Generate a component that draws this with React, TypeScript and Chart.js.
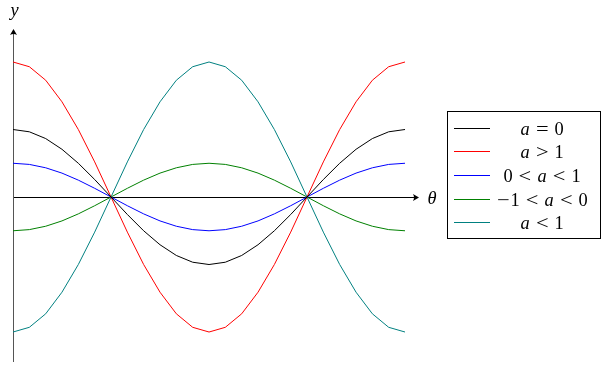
import React, { useEffect, useRef } from "react";
import { Chart, registerables } from "chart.js";

Chart.register(...registerables);

const thetaValues = [0, 0.262, 0.524, 0.785, 1.047, 1.309, 1.571, 1.833, 2.094, 2.356, 2.618, 2.88, 3.142, 3.403, 3.665, 3.927, 4.189, 4.451, 4.712, 4.974, 5.236, 5.498, 5.76, 6.021, 6.283];

const blackValues = [1, 0.966, 0.866, 0.707, 0.5, 0.259, 0, -0.259, -0.5, -0.707, -0.866, -0.966, -1, -0.966, -0.866, -0.707, -0.5, -0.259, 0, 0.259, 0.5, 0.707, 0.866, 0.966, 1];
const redValues = [2, 1.93, 1.73, 1.41, 1, 0.52, 0, -0.52, -1, -1.41, -1.73, -1.93, -2, -1.93, -1.73, -1.41, -1, -0.52, 0, 0.52, 1, 1.41, 1.73, 1.93, 2];
const blueValues = [0.5, 0.483, 0.433, 0.354, 0.25, 0.129, 0, -0.129, -0.25, -0.354, -0.433, -0.483, -0.5, -0.483, -0.433, -0.354, -0.25, -0.129, 0, 0.129, 0.25, 0.354, 0.433, 0.483, 0.5];
const greenValues = [-0.5, -0.483, -0.433, -0.354, -0.25, -0.129, 0, 0.129, 0.25, 0.354, 0.433, 0.483, 0.5, 0.483, 0.433, 0.354, 0.25, 0.129, 0, -0.129, -0.25, -0.354, -0.433, -0.483, -0.5];
const tealValues = [-2, -1.93, -1.73, -1.41, -1, -0.52, 0, 0.52, 1, 1.41, 1.73, 1.93, 2, 1.93, 1.73, 1.41, 1, 0.52, 0, -0.52, -1, -1.41, -1.73, -1.93, -2];

// legend labels as math tokens
const legendTokens: string[][] = [
  ["a", "=", "0"],
  ["a", ">", "1"],
  ["0", "<", "a", "<", "1"],
  ["\u2212", "1", "<", "a", "<", "0"],
  ["a", "<", "1"],
];
const seriesNames = ["a = 0", "a > 1", "0 < a < 1", "\u22121 < a < 0", "a < 1"];
const seriesColors = ["#000000", "#ff0000", "#0000ff", "#008000", "#008080"];
const seriesData = [blackValues, redValues, blueValues, greenValues, tealValues];

const xLabel = "\u03b8";
const yLabel = "y";

const SERIF = "'Liberation Serif', 'DejaVu Serif', serif";
const EM = 18.4;

function tokenWidth(t: string) {
  if (t === "a") return 0.529 * EM;
  if (t === "0" || t === "1") return 0.5 * EM;
  return 0.778 * EM;
}
function isRel(t: string) {
  return t === "<" || t === ">" || t === "=";
}

function arrow(ctx: CanvasRenderingContext2D, x: number, y: number, dir: "right" | "up") {
  ctx.save();
  ctx.translate(x, y);
  if (dir === "up") ctx.rotate(-Math.PI / 2);
  ctx.beginPath();
  ctx.moveTo(1, 0);
  ctx.lineTo(-5, -3.5);
  ctx.quadraticCurveTo(-3, 0, -5, 3.5);
  ctx.closePath();
  ctx.fillStyle = "#000";
  ctx.fill();
  ctx.restore();
}

const axesPlugin = {
  id: "axesPlugin",
  beforeDatasetsDraw(chart: any) {
    const ctx = chart.ctx as CanvasRenderingContext2D;
    const xs = chart.scales.x;
    const ys = chart.scales.y;
    const x0 = Math.round(xs.getPixelForValue(0)) + 0.5;
    const y0 = Math.round(ys.getPixelForValue(0)) + 0.5;
    const ca = chart.chartArea;
    ctx.save();
    ctx.lineWidth = 1;
    ctx.strokeStyle = "#000";
    ctx.beginPath();
    ctx.moveTo(ca.left, y0);
    ctx.lineTo(ca.right - 3, y0);
    ctx.stroke();
    arrow(ctx, ca.right, y0, "right");
    ctx.strokeStyle = "#555";
    ctx.beginPath();
    ctx.moveTo(x0, ca.bottom);
    ctx.lineTo(x0, ca.top + 3);
    ctx.stroke();
    arrow(ctx, x0, ca.top, "up");
    ctx.fillStyle = "#000";
    ctx.font = `italic ${EM}px ${SERIF}`;
    ctx.textBaseline = "alphabetic";
    ctx.textAlign = "center";
    ctx.fillText(xLabel, ca.right + 14, y0 + 6);
    ctx.fillText(yLabel, x0 + 1, 16);
    ctx.restore();
  },
};

const legendPlugin = {
  id: "boxLegend",
  afterDatasetsDraw(chart: any) {
    const ctx = chart.ctx as CanvasRenderingContext2D;
    const left = 447.5, top = 111.5, w = 153, h = 127;
    ctx.save();
    ctx.fillStyle = "#fff";
    ctx.fillRect(left, top, w, h);
    ctx.strokeStyle = "#000";
    ctx.lineWidth = 1;
    ctx.strokeRect(left, top, w, h);
    const rowY = [128.5, 151.5, 175.5, 199.5, 222.5];
    chart.data.datasets.forEach((_ds: any, i: number) => {
      const y = rowY[i];
      ctx.strokeStyle = seriesColors[i];
      ctx.beginPath();
      ctx.moveTo(454, y);
      ctx.lineTo(490, y);
      ctx.stroke();
      const toks = legendTokens[i];
      const gap = 0.278 * EM;
      let total = 0;
      toks.forEach((t) => {
        total += tokenWidth(t);
        if (isRel(t)) total += 2 * gap;
      });
      let x = 542 - total / 2;
      ctx.fillStyle = "#000";
      ctx.textBaseline = "alphabetic";
      ctx.textAlign = "center";
      toks.forEach((t) => {
        if (isRel(t)) x += gap;
        const tw = tokenWidth(t);
        ctx.font = t === "a" ? `italic ${EM}px ${SERIF}` : `${EM}px ${SERIF}`;
        if (isRel(t) || t === "\u2212") {
          ctx.save();
          ctx.translate(x + tw / 2, y + 6);
          ctx.scale(1.22, 1);
          ctx.fillText(t, 0, 0);
          ctx.restore();
        } else {
          ctx.fillText(t, x + tw / 2, y + 6);
        }
        x += tw;
        if (isRel(t)) x += gap;
      });
    });
    ctx.restore();
  },
};

export default function App() {
  const ref = useRef<HTMLCanvasElement>(null);
  useEffect(() => {
    if (!ref.current) return;
    const chart = new Chart(ref.current, {
      type: "line",
      data: {
        datasets: seriesData.map((vals, i) => ({
          label: seriesNames[i],
          data: vals.map((v, k) => ({ x: thetaValues[k], y: v })),
          borderColor: seriesColors[i],
          backgroundColor: seriesColors[i],
          borderWidth: 1,
          pointRadius: 0,
          tension: 0,
          fill: false,
          clip: false as any,
        })),
      },
      options: {
        responsive: false,
        animation: false,
        devicePixelRatio: 1,
        layout: { padding: { left: 13, top: 30, right: 185, bottom: 5 } },
        plugins: { legend: { display: false }, tooltip: { enabled: false } },
        scales: {
          x: { type: "linear", min: 0, max: 6.491, display: false },
          y: { type: "linear", min: -2.444, max: 2.474, display: false },
        },
      },
      plugins: [axesPlugin, legendPlugin],
    });
    return () => chart.destroy();
  }, []);
  return (
    <div style={{ position: "absolute", left: 0, top: 0 }}>
      <canvas ref={ref} width={603} height={367} style={{ display: "block" }} />
    </div>
  );
}
